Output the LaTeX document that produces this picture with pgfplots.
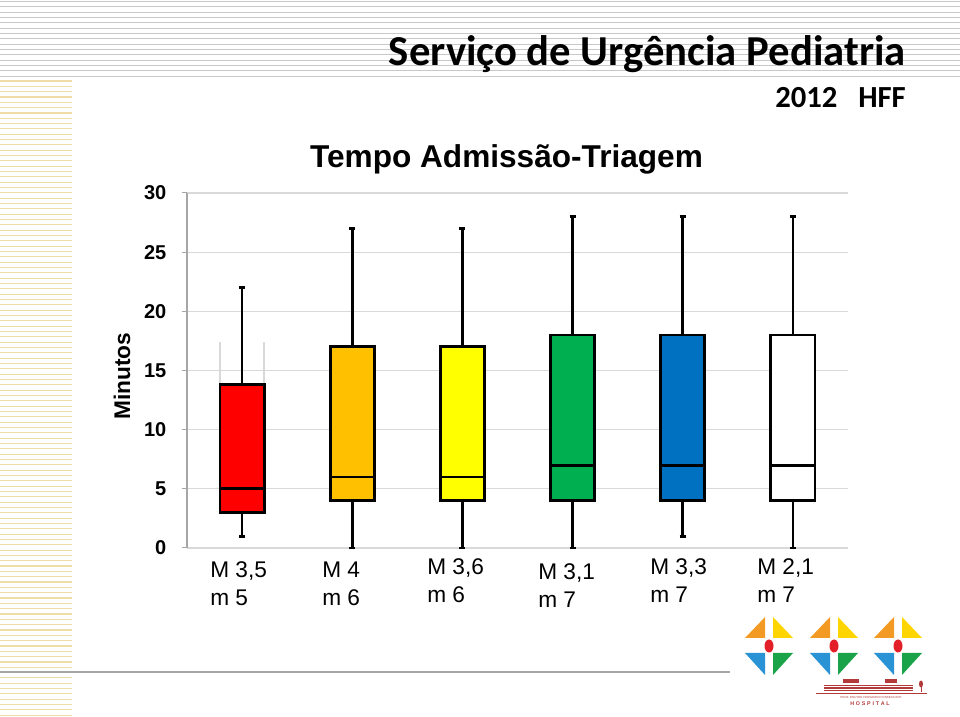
\documentclass[border=0pt]{standalone}
\usepackage{pgfplots}
\pgfplotsset{compat=1.18}
\usepgfplotslibrary{statistics}
\usepackage{fontspec}
\setmainfont{Liberation Sans}
\newfontfamily\calibri{Carlito}
\definecolor{cred}{HTML}{FF0000}
\definecolor{corange}{HTML}{FFC000}
\definecolor{cyellow}{HTML}{FFFF00}
\definecolor{cgreen}{HTML}{00B050}
\definecolor{cblue}{HTML}{0070C0}
\definecolor{gridgray}{HTML}{D9D9D9}
\definecolor{axisgray}{HTML}{A6A6A6}
\definecolor{stripegray}{HTML}{C8C8C8}
\definecolor{stripetan}{HTML}{EEDDA8}
\definecolor{lorange}{HTML}{F39A24}
\definecolor{lyellow}{HTML}{FFD500}
\definecolor{lblue}{HTML}{2A93D5}
\definecolor{lgreen}{HTML}{1BA34A}
\definecolor{lred}{HTML}{E3202A}
\definecolor{hred}{HTML}{B23A3A}
\begin{document}
\begin{tikzpicture}
\useasboundingbox (0,0) rectangle (720pt,537.75pt);
% background decoration (pixel coordinates, y downwards)
\begin{scope}[x=0.75pt,y=-0.75pt,shift={(0pt,537.75pt)}]
  \foreach \i in {0,...,14} {\draw[stripegray,line width=0.8pt] (0,1.5+\i*5.33) -- (960,1.5+\i*5.33);}
  \foreach \i in {0,...,119} {\draw[stripetan,line width=0.8pt] (0,81+\i*5.33) -- (72,81+\i*5.33);}
  \draw[axisgray,line width=1.1pt] (0,672) -- (730,672);
  % logos
  \foreach \cx in {769,834,898} {
    \fill[lorange] (\cx-24,638) -- (\cx-4,638) -- (\cx-4,617) -- cycle;
    \fill[lyellow] (\cx+4,617) -- (\cx+4,638) -- (\cx+24,638) -- cycle;
    \fill[lblue] (\cx-24,653) -- (\cx-4,653) -- (\cx-4,675) -- cycle;
    \fill[lgreen] (\cx+4,653) -- (\cx+4,675) -- (\cx+24,653) -- cycle;
    \fill[lred] (\cx,646) ellipse [x radius=4.5, y radius=6.5];
  }
  % hospital logo
  \fill[hred] (843,679) rectangle (859,683);
  \fill[hred] (885,679) rectangle (897,683);
  \foreach \yy in {685,687.5,690} {\fill[hred] (824,\yy) rectangle (913,\yy+1.3);}
  \fill[hred] (816,693) rectangle (927,694.2);
  \fill[hred] (920.5,686) rectangle (921.5,692);
  \fill[hred] (921,684) ellipse [x radius=2, y radius=3.5];
  \node[hred,font=\fontsize{2.2}{2.5}\selectfont,anchor=base] at (871,699) {PROF. DOUTOR FERNANDO FONSECA EPE};
  \node[hred,font=\bfseries\fontsize{4}{4}\selectfont,anchor=base] at (870,706) {H\,\,O\,\,S\,\,P\,\,I\,\,T\,\,A\,\,L};
\end{scope}

\begin{axis}[
  at={(140.25pt,126.75pt)}, anchor=south west,
  scale only axis, width=495.75pt, height=266.25pt,
  xmin=0.5, xmax=6.5, ymin=0, ymax=30,
  ytick={0,5,...,30}, xtick=\empty,
  ytick pos=left, tick align=outside,
  major tick length=4pt,
  tick style={draw=axisgray,line width=0.75pt},
  ymajorgrids, grid style={draw=gridgray,line width=0.9pt},
  axis line style={draw=none},
  yticklabel style={font=\bfseries\fontsize{15}{15}\selectfont, xshift=-8pt},
  /pgf/number format/assume math mode=true,
  clip=false,
  boxplot/draw direction=y,
  every axis plot/.append style={line width=2.1pt},
]
\draw[axisgray,line width=0.9pt] (axis cs:0.5,0) -- (axis cs:0.5,30);
\addplot[gray!30,line width=1.4pt] coordinates {(0.8,13.8) (0.8,17.4)};
\addplot[gray!30,line width=1.4pt] coordinates {(1.2,13.8) (1.2,17.4)};
\addplot[boxplot prepared={lower whisker=1, lower quartile=3, median=5, upper quartile=13.8, upper whisker=22, draw position=1, box extend=0.4, whisker extend=0.055}, draw=black, fill=cred, line width=2.1pt] coordinates {};
\addplot[boxplot prepared={lower whisker=0, lower quartile=4, median=6, upper quartile=17, upper whisker=27, draw position=2, box extend=0.4, whisker extend=0.055}, draw=black, fill=corange, line width=2.1pt] coordinates {};
\addplot[boxplot prepared={lower whisker=0, lower quartile=4, median=6, upper quartile=17, upper whisker=27, draw position=3, box extend=0.4, whisker extend=0.055}, draw=black, fill=cyellow, line width=2.1pt] coordinates {};
\addplot[boxplot prepared={lower whisker=0, lower quartile=4, median=7, upper quartile=18, upper whisker=28, draw position=4, box extend=0.4, whisker extend=0.055}, draw=black, fill=cgreen, line width=2.1pt] coordinates {};
\addplot[boxplot prepared={lower whisker=1, lower quartile=4, median=7, upper quartile=18, upper whisker=28, draw position=5, box extend=0.4, whisker extend=0.055}, draw=black, fill=cblue, line width=2.1pt] coordinates {};
\addplot[boxplot prepared={lower whisker=0, lower quartile=4, median=7, upper quartile=18, upper whisker=28, draw position=6, box extend=0.4, whisker extend=0.055}, draw=black, fill=white, line width=2.1pt] coordinates {};
\end{axis}

% texts (pixel coordinates)
\begin{scope}[x=0.75pt,y=-0.75pt,shift={(0pt,537.75pt)}]
  \node[anchor=base east,inner sep=0pt,font=\calibri\bfseries\fontsize{32}{32}\selectfont] at (906,66) {Serviço de Urgência Pediatria};
  \node[anchor=base east,inner sep=0pt,font=\calibri\bfseries\fontsize{23}{23}\selectfont] at (906,108) {2012\ \ \ HFF};
  \node[anchor=base,inner sep=0pt,font=\bfseries\fontsize{23.7}{24}\selectfont] at (506.5,168) {Tempo Admissão-Triagem};
  \node[anchor=center,inner sep=0pt,rotate=90,font=\bfseries\fontsize{17}{17}\selectfont] at (122,376) {Minutos};
  \tikzset{lab/.style={anchor=base west,inner sep=0pt,align=left,font=\fontsize{17}{21}\selectfont}}
  \node[lab] at (210,606) {M 3,5\\m 5};
  \node[lab] at (322,606) {M 4\\m 6};
  \node[lab] at (427,603) {M 3,6\\m 6};
  \node[lab] at (538,608) {M 3,1\\m 7};
  \node[lab] at (650,603) {M 3,3\\m 7};
  \node[lab] at (757,603) {M 2,1\\m 7};
\end{scope}
\end{tikzpicture}
\end{document}
